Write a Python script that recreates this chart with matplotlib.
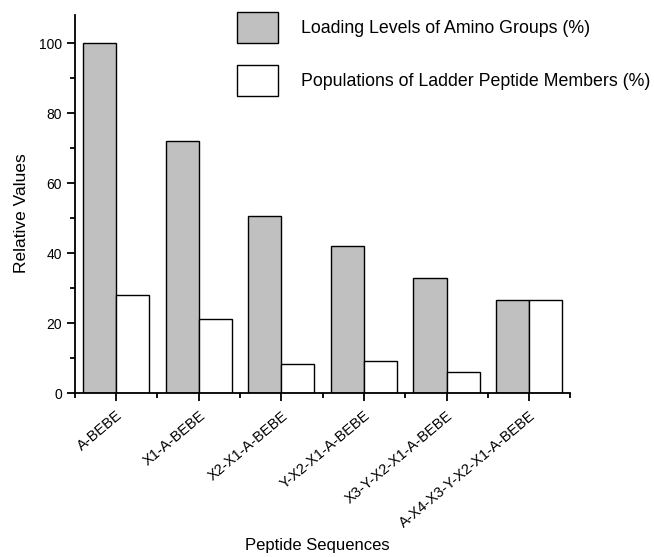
import numpy as np
import matplotlib
matplotlib.use('Agg')
import matplotlib.pyplot as plt
from matplotlib.ticker import MultipleLocator, FixedLocator

plt.rcParams['font.family'] = ['Liberation Sans', 'DejaVu Sans']

peptides = ['A-BEBE', 'X1-A-BEBE', 'X2-X1-A-BEBE', 'Y-X2-X1-A-BEBE',
            'X3-Y-X2-X1-A-BEBE', 'A-X4-X3-Y-X2-X1-A-BEBE']
loading = [100, 72, 50.6, 42.1, 32.9, 26.6]
populations = [28.0, 21.2, 8.4, 9.1, 6.1, 26.6]
series_names = ['Loading Levels of Amino Groups (%)',
                'Populations of Ladder Peptide Members (%)']

fig = plt.figure(figsize=(6.54, 5.57), dpi=100)
ax = fig.add_axes([0.1142, 0.2939, 0.7581, 0.6792])

x = np.arange(len(peptides))
w = 0.4
ax.bar(x - w / 2, loading, w, color='#c0c0c0', edgecolor='black', linewidth=1.0, label=series_names[0])
ax.bar(x + w / 2, populations, w, color='white', edgecolor='black', linewidth=1.0, label=series_names[1])

ax.set_xlim(-0.5, len(peptides) - 0.5)
ax.set_ylim(0, 108)
ax.spines['top'].set_visible(False)
ax.spines['right'].set_visible(False)
for s in ['left', 'bottom']:
    ax.spines[s].set_linewidth(1.3)

ax.set_xticks(x)
ax.set_xticklabels(peptides, rotation=40, ha='right', va='top', rotation_mode='anchor', fontsize=10.5)
ax.xaxis.set_minor_locator(FixedLocator(np.arange(-0.5, len(peptides), 1.0)))
ax.yaxis.set_major_locator(MultipleLocator(20))
ax.yaxis.set_minor_locator(MultipleLocator(10))
ax.tick_params(axis='both', which='major', direction='out', length=6, width=1.3, labelsize=10, pad=3)
ax.tick_params(axis='x', which='major', labelsize=10.5, pad=5)
ax.tick_params(axis='both', which='minor', direction='out', length=3.5, width=1.3)

ax.set_xlabel('Peptide Sequences', fontsize=12)
ax.set_ylabel('Relative Values', fontsize=12.5)
ax.xaxis.set_label_coords(0.49, -0.383)
ax.yaxis.set_label_coords(-0.092, 0.475)

fig.legend(loc='upper left', bbox_to_anchor=(0.362, 0.978), frameon=False,
           fontsize=12.8, borderpad=0, borderaxespad=0, handlelength=2.3, handleheight=2.3,
           labelspacing=1.25, handletextpad=1.33)

fig.savefig('out.png', dpi=100)
